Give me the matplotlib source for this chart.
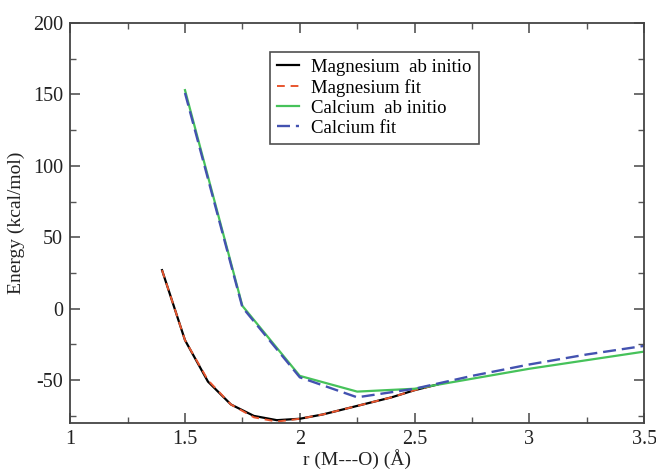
import matplotlib

matplotlib.use("Agg")

import matplotlib.pyplot as plt
from matplotlib.ticker import MultipleLocator

plt.rcParams["font.family"] = ["Liberation Serif", "DejaVu Serif"]
plt.rcParams["axes.unicode_minus"] = False

# distances (Angstrom) and energies (kcal/mol)
mg_r = [1.4, 1.5, 1.6, 1.7, 1.8, 1.9, 2.0, 2.1, 2.2, 2.3, 2.4, 2.5, 2.6]
mg_abinitio = [27, -22, -51, -67, -75, -78, -77, -74, -70, -66, -62, -57, -53]
mg_fit = [27, -22, -50, -67, -76, -79, -77, -74, -70, -66, -62, -57, -53]

ca_r = [1.5, 1.75, 2.0, 2.25, 2.5, 2.75, 3.0, 3.25, 3.5]
ca_abinitio = [153, 2, -47, -58, -56, -49, -42, -36, -30]
ca_fit = [151, 1, -48, -62, -56, -47, -39, -32, -26]

fig = plt.figure(figsize=(6.56, 4.69), dpi=100)
ax = fig.add_axes([0.107, 0.098, 0.875, 0.853])

ax.plot(mg_r, mg_abinitio, color="black", lw=1.6, label="Magnesium  ab initio")
ax.plot(mg_r, mg_fit, color="#e8552e", lw=1.4, ls=(0, (4, 3)), label="Magnesium fit")
ax.plot(ca_r, ca_abinitio, color="#46c25a", lw=1.6, label="Calcium  ab initio")
ax.plot(ca_r, ca_fit, color="#4352b0", lw=1.7, ls=(0, (5.5, 2.5)), label="Calcium fit")

ax.set_xlim(1, 3.5)
ax.set_ylim(-80, 200)
ax.xaxis.set_major_locator(MultipleLocator(0.5))
ax.xaxis.set_minor_locator(MultipleLocator(0.25))
ax.yaxis.set_major_locator(MultipleLocator(50))
ax.yaxis.set_minor_locator(MultipleLocator(25))
ax.set_xticks([1, 1.5, 2, 2.5, 3, 3.5], ["1", "1.5", "2", "2.5", "3", "3.5"])

ax.tick_params(which="both", direction="in", top=True, right=True,
               color="#555555", labelsize=14.5, labelcolor="#222222")
ax.tick_params(which="major", length=7, width=1.2, pad=5)
ax.tick_params(which="minor", length=4, width=1.0)
for spine in ax.spines.values():
    spine.set_color("#444444")
    spine.set_linewidth(1.3)

ax.set_xlabel("r (M---O) (Å)", fontsize=14, labelpad=0, color="#222222")
ax.set_ylabel("Energy (kcal/mol)", fontsize=14, labelpad=6, color="#222222")

leg = ax.legend(loc="upper left", bbox_to_anchor=(0.348, 0.928), fontsize=13.5,
                frameon=True, fancybox=False, handlelength=1.2, handletextpad=0.64,
                labelspacing=0.16, borderpad=0.37, borderaxespad=0)
leg.get_frame().set_edgecolor("#222222")
leg.get_frame().set_linewidth(1.2)

fig.savefig("out.png", dpi=100)
